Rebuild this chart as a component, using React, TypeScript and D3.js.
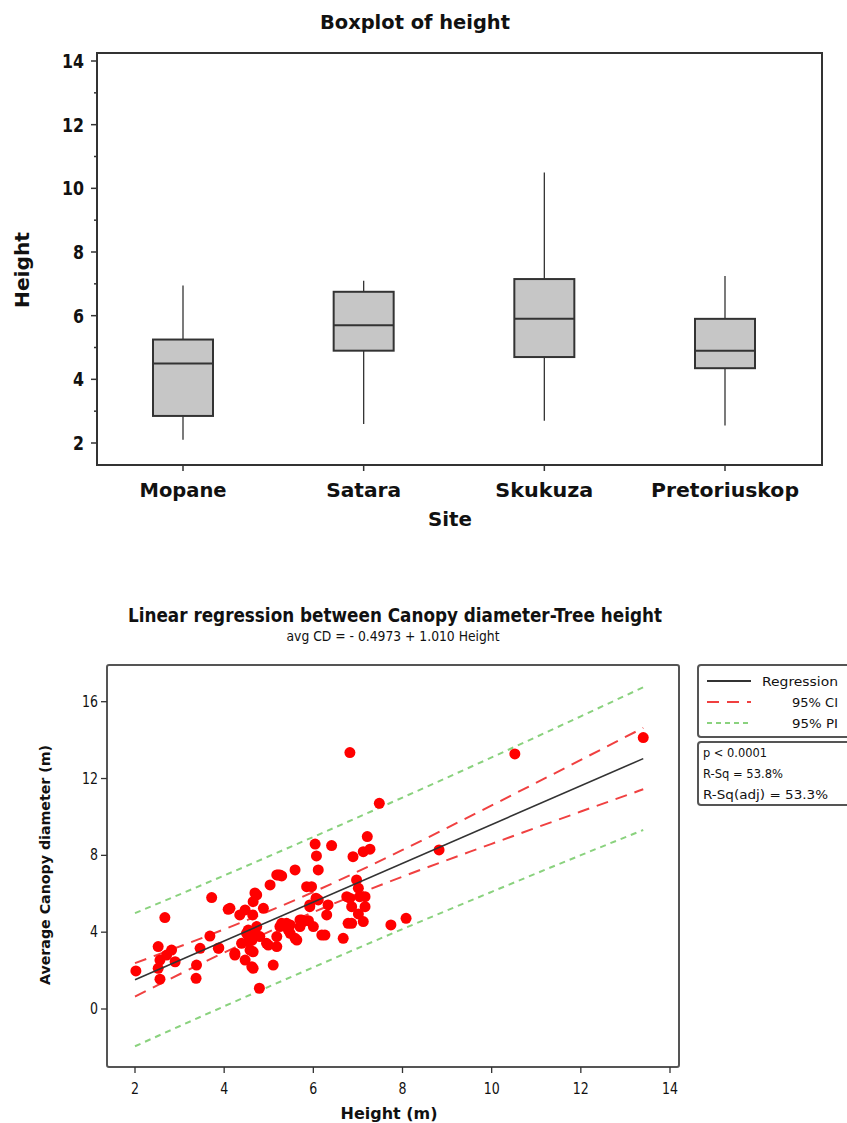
import * as d3 from "d3";
import { useEffect, useRef } from "react";

// boxplot of tree height per site
const sites = ["Mopane", "Satara", "Skukuza", "Pretoriuskop"];
const whiskerLow = [2.1, 2.6, 2.7, 2.55];
const q1 = [2.85, 4.9, 4.7, 4.35];
const medians = [4.5, 5.7, 5.9, 4.9];
const q3 = [5.25, 6.75, 7.15, 5.9];
const whiskerHigh = [6.95, 7.1, 10.5, 7.25];
const boxTicks = [2, 4, 6, 8, 10, 12, 14];
const boxMinor = [3, 5, 7, 9, 11, 13];

// scatter: tree height vs average canopy diameter
const heightM = [
  2.02, 2.67, 2.52, 2.56, 2.52, 2.56, 2.82, 2.9, 2.71, 3.38, 3.37, 3.46, 3.68, 3.72, 3.87, 3.88,
  4.13, 4.24, 4.35, 4.47, 4.5, 4.54, 4.47, 4.58, 4.65, 4.64, 4.73, 4.65, 4.79, 4.8, 4.88, 4.73,
  4.62, 4.99, 5.03, 5.1, 5.18, 5.25, 5.18, 5.25, 5.4, 5.48, 5.59, 5.63, 5.7, 5.77, 5.85, 5.96,
  5.89, 6.0, 6.04, 6.07, 6.11, 6.11, 5.92, 6.26, 6.3, 6.33, 6.41, 6.67, 6.75, 6.82, 6.86, 6.89,
  6.97, 10.52, 13.4, 7.48, 8.82, 7.21, 7.27, 7.12, 5.29, 7.01, 7.04, 7.16, 6.82, 6.06, 5.92, 6.86,
  7.16, 7.01, 6.78, 7.12, 5.7, 5.48, 7.74, 8.08, 4.69, 4.54, 4.69, 4.39, 4.24, 4.65, 4.62, 4.95,
  5.18, 5.29, 5.44, 5.74, 5.59, 6.19, 4.09, 5.21,
];
const canopyM = [
  1.98, 4.76, 3.25, 2.55, 2.12, 1.55, 3.07, 2.46, 2.81, 2.29, 1.6, 3.16, 3.8, 5.8, 3.16, 3.18,
  5.24, 2.81, 4.9, 5.16, 3.94, 3.51, 2.55, 3.07, 2.12, 4.9, 5.94, 5.59, 1.08, 3.77, 5.24, 4.29,
  3.57, 3.33, 6.46, 2.29, 6.98, 6.98, 3.77, 4.29, 4.46, 3.94, 7.24, 3.59, 4.29, 4.55, 6.37, 6.37,
  4.6, 4.29, 8.59, 7.97, 7.24, 5.68, 5.42, 3.85, 4.9, 5.42, 8.51, 3.68, 5.85, 13.35, 4.46, 7.93,
  6.72, 13.28, 14.13, 10.71, 8.28, 8.98, 8.32, 8.19, 6.93, 6.29, 5.85, 5.85, 5.77, 5.77, 5.33, 5.33,
  5.33, 4.95, 4.46, 4.55, 4.64, 4.38, 4.38, 4.72, 6.04, 4.11, 3.96, 3.42, 2.9, 2.98, 2.2, 3.42,
  3.25, 4.46, 4.11, 4.64, 3.68, 3.85, 5.19, 6.98,
];
const intercept = -0.4973;
const slope = 1.01;
const bandX = [2, 4, 6, 8, 10, 12, 13.4];
const ciLow = [0.65, 2.94, 5.04, 6.89, 8.6, 10.28, 11.44];
const ciHigh = [2.39, 4.15, 6.09, 8.28, 10.6, 12.97, 14.64];
const piLow = [-1.94, 0.14, 2.17, 4.16, 6.1, 8.01, 9.32];
const piHigh = [4.99, 6.95, 8.96, 11.01, 13.1, 15.24, 16.75];
const scatterXTicks = [2, 4, 6, 8, 10, 12, 14];
const scatterYTicks = [0, 4, 8, 12, 16];
const legendNames = ["Regression", "95% CI", "95% PI"];
const statLines = ["p < 0.0001", "R-Sq = 53.8%", "R-Sq(adj) = 53.3%"];

const FONT = "'DejaVu Sans', Verdana, sans-serif";

export default function App() {
  const ref = useRef<SVGSVGElement>(null);

  useEffect(() => {
    const svg = d3.select(ref.current);
    svg.selectAll("*").remove();

    const label = (
      g: any,
      txt: string,
      x: number,
      y: number,
      size: number,
      weight: string,
      len: number | null,
      anchor = "middle"
    ) => {
      const t = g
        .append("text")
        .attr("x", x)
        .attr("y", y)
        .attr("font-size", size)
        .attr("font-weight", weight)
        .attr("font-family", FONT)
        .attr("fill", "#111")
        .attr("text-anchor", anchor)
        .text(txt);
      if (len) t.attr("textLength", len).attr("lengthAdjust", "spacingAndGlyphs");
      return t;
    };

    // ---------- boxplot ----------
    const g1 = svg.append("g");
    const y1 = d3.scaleLinear().domain([2, 14]).range([443, 61]);
    const x1 = d3.scalePoint().domain(sites).range([183, 725]);
    const boxW = 60;

    label(g1, "Boxplot of height", 415, 29, 19, "bold", 190);

    g1.append("rect")
      .attr("x", 97)
      .attr("y", 53)
      .attr("width", 725)
      .attr("height", 412)
      .attr("fill", "none")
      .attr("stroke", "#333")
      .attr("stroke-width", 2);

    boxTicks.forEach((v) => {
      g1.append("line")
        .attr("x1", 91).attr("x2", 97)
        .attr("y1", y1(v)).attr("y2", y1(v))
        .attr("stroke", "#333").attr("stroke-width", 1.5);
      label(g1, String(v), 84, y1(v) + 7, 20, "bold", String(v).length * 11, "end");
    });
    boxMinor.forEach((v) => {
      g1.append("line")
        .attr("x1", 94).attr("x2", 97)
        .attr("y1", y1(v)).attr("y2", y1(v))
        .attr("stroke", "#333").attr("stroke-width", 1.5);
    });

    sites.forEach((s, i) => {
      const cx = x1(s)!;
      g1.append("line")
        .attr("x1", cx).attr("x2", cx)
        .attr("y1", 465).attr("y2", 471)
        .attr("stroke", "#333").attr("stroke-width", 1.5);
      const widths = [87, 75, 98, 148];
      label(g1, s, cx, 497, 19, "bold", widths[i]);

      g1.append("line")
        .attr("x1", cx).attr("x2", cx)
        .attr("y1", y1(whiskerLow[i])).attr("y2", y1(q1[i]))
        .attr("stroke", "#333").attr("stroke-width", 1.3);
      g1.append("line")
        .attr("x1", cx).attr("x2", cx)
        .attr("y1", y1(q3[i])).attr("y2", y1(whiskerHigh[i]))
        .attr("stroke", "#333").attr("stroke-width", 1.3);
      g1.append("rect")
        .attr("x", cx - boxW / 2)
        .attr("y", y1(q3[i]))
        .attr("width", boxW)
        .attr("height", y1(q1[i]) - y1(q3[i]))
        .attr("fill", "#c6c6c6")
        .attr("stroke", "#333")
        .attr("stroke-width", 2);
      g1.append("line")
        .attr("x1", cx - boxW / 2).attr("x2", cx + boxW / 2)
        .attr("y1", y1(medians[i])).attr("y2", y1(medians[i]))
        .attr("stroke", "#333").attr("stroke-width", 2);
    });

    label(g1, "Site", 450, 526, 20, "bold", 44);
    label(g1, "Height", 0, 0, 19, "bold", 76).attr("transform", "translate(29,270) rotate(-90)");

    // ---------- regression scatter ----------
    const g2 = svg.append("g");
    const x2 = d3.scaleLinear().domain([2, 14]).range([135, 670]);
    const y2 = d3.scaleLinear().domain([0, 16]).range([1009, 701.7]);

    label(g2, "Linear regression between Canopy diameter-Tree height", 395, 622, 20, "bold", 534);
    label(g2, "avg CD =  - 0.4973 + 1.010 Height", 393, 641, 14, "normal", 213);

    g2.append("rect")
      .attr("x", 107)
      .attr("y", 665)
      .attr("width", 572)
      .attr("height", 402)
      .attr("rx", 2)
      .attr("fill", "none")
      .attr("stroke", "#555")
      .attr("stroke-width", 2);

    scatterXTicks.forEach((v) => {
      g2.append("line")
        .attr("x1", x2(v)).attr("x2", x2(v))
        .attr("y1", 1067).attr("y2", 1073)
        .attr("stroke", "#333").attr("stroke-width", 1.3);
      label(g2, String(v), x2(v), 1094, 15, "normal", String(v).length * 8);
    });
    scatterYTicks.forEach((v) => {
      g2.append("line")
        .attr("x1", 101).attr("x2", 107)
        .attr("y1", y2(v)).attr("y2", y2(v))
        .attr("stroke", "#333").attr("stroke-width", 1.3);
      label(g2, String(v), 98, y2(v) + 5, 15, "normal", String(v).length * 8, "end");
    });

    label(g2, "Height (m)", 389, 1119, 16, "bold", 97);
    label(g2, "Average Canopy diameter (m)", 0, 0, 14, "bold", 240).attr(
      "transform",
      "translate(50,865) rotate(-90)"
    );

    const band = (vals: number[]) =>
      d3
        .line<number>()
        .x((_, i) => x2(bandX[i]))
        .y((d) => y2(d))
        .curve(d3.curveMonotoneX)(vals);

    [piLow, piHigh].forEach((vals) => {
      g2.append("path")
        .attr("d", band(vals))
        .attr("fill", "none")
        .attr("stroke", "#8ad27e")
        .attr("stroke-width", 2)
        .attr("stroke-dasharray", "6,5");
    });
    [ciLow, ciHigh].forEach((vals) => {
      g2.append("path")
        .attr("d", band(vals))
        .attr("fill", "none")
        .attr("stroke", "#f04040")
        .attr("stroke-width", 2)
        .attr("stroke-dasharray", "12,8");
    });

    const pts = heightM.map((h, i) => [h, canopyM[i]]);
    g2.selectAll("circle.pt")
      .data(pts)
      .enter()
      .append("circle")
      .attr("class", "pt")
      .attr("cx", (d) => x2(d[0]))
      .attr("cy", (d) => y2(d[1]))
      .attr("r", 5.5)
      .attr("fill", "#ff0000");

    g2.append("line")
      .attr("x1", x2(bandX[0]))
      .attr("x2", x2(bandX[bandX.length - 1]))
      .attr("y1", y2(intercept + slope * bandX[0]))
      .attr("y2", y2(intercept + slope * bandX[bandX.length - 1]))
      .attr("stroke", "#333")
      .attr("stroke-width", 1.6);

    // legend
    g2.append("rect")
      .attr("x", 698).attr("y", 665)
      .attr("width", 160).attr("height", 72)
      .attr("rx", 3)
      .attr("fill", "#fff").attr("stroke", "#555").attr("stroke-width", 2);
    const legStroke = ["#333", "#f04040", "#8ad27e"];
    const legDash = ["none", "12,8", "5,4"];
    const legLen = [76, 46, 46];
    legendNames.forEach((n, i) => {
      const yy = 681 + i * 21;
      g2.append("line")
        .attr("x1", 707).attr("x2", 751)
        .attr("y1", yy).attr("y2", yy)
        .attr("stroke", legStroke[i])
        .attr("stroke-width", i === 0 ? 2 : 1.8)
        .attr("stroke-dasharray", legDash[i]);
      label(g2, n, 838, yy + 5, 12, "normal", legLen[i], "end");
    });

    g2.append("rect")
      .attr("x", 698).attr("y", 742)
      .attr("width", 160).attr("height", 63)
      .attr("rx", 3)
      .attr("fill", "#fff").attr("stroke", "#555").attr("stroke-width", 2);
    const statLen = [64, 80, 125];
    statLines.forEach((s, i) => {
      label(g2, s, 703, 757 + i * 21, 12, "normal", statLen[i], "start");
    });
  }, []);

  return (
    <svg
      ref={ref}
      width={847}
      height={1123}
      style={{ position: "absolute", left: 0, top: 0, background: "#fff" }}
    />
  );
}
